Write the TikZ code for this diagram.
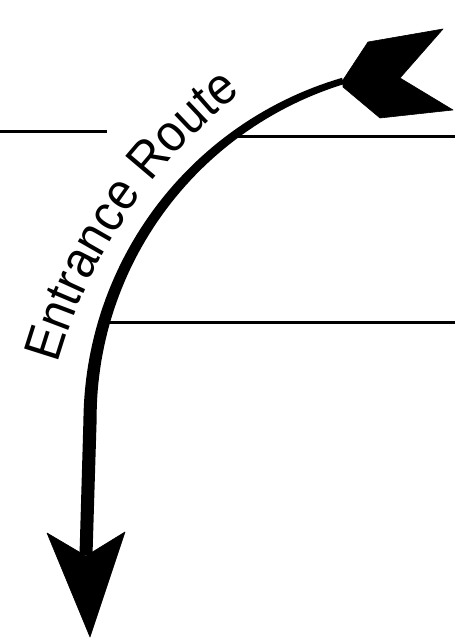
\documentclass[tikz,border=0pt]{standalone}
\usepackage{fontspec}
\setsansfont{Liberation Sans}
\newfontfamily\routefont[FakeStretch=0.92]{Liberation Sans}
\usetikzlibrary{decorations.text}
\tikzset{
  rule/.style={line width=3pt, black},
  head/.style={fill=black, draw=black, line width=0.6pt, line join=round}
}
\begin{document}
\begin{tikzpicture}[x=1pt,y=1pt]
  \useasboundingbox[fill=white] (0,0) rectangle (455,640);
  % horizontal lines
  \coordinate (a1) at (0,508);   \coordinate (a2) at (107,508);
  \coordinate (b1) at (238,503); \coordinate (b2) at (455,503);
  \coordinate (c1) at (106,317); \coordinate (c2) at (455,317);
  \draw[rule] (a1) -- (a2);
  \draw[rule] (b1) -- (b2);
  \draw[rule] (c1) -- (c2);
  % tapered route: circular arc (centre (445,219), r=355) then nearly straight shaft
  \fill[black]
    plot[domain=106.7:180, samples=60]
      ({445+(358.3+(\x-106.7)*3.3/73.3)*cos(\x)},{219+(358.3+(\x-106.7)*3.3/73.3)*sin(\x)})
    -- (79.5,85) -- (92.5,85)
    -- plot[domain=180:106.7, samples=60]
      ({445+(351.7-(\x-106.7)*3.3/73.3)*cos(\x)},{219+(351.7-(\x-106.7)*3.3/73.3)*sin(\x)})
    -- cycle;
  % top arrowhead
  \filldraw[head] (343,560) -- (368,598) -- (443,611) -- (400,562) -- (453,530) -- (380,522) -- (343,553) -- cycle;
  % bottom arrowhead
  \filldraw[head] (47,107) -- (86,84) -- (125,108) -- (90,3) -- cycle;
  % label along the route
  \path[decorate, decoration={text along path, text align=left,
      text={|\routefont\fontsize{52}{52}\selectfont|Entrance Route}}]
    (558.3,134.4) ++(164.2:520) arc[start angle=164.2, end angle=115, radius=520];
\end{tikzpicture}
\end{document}
